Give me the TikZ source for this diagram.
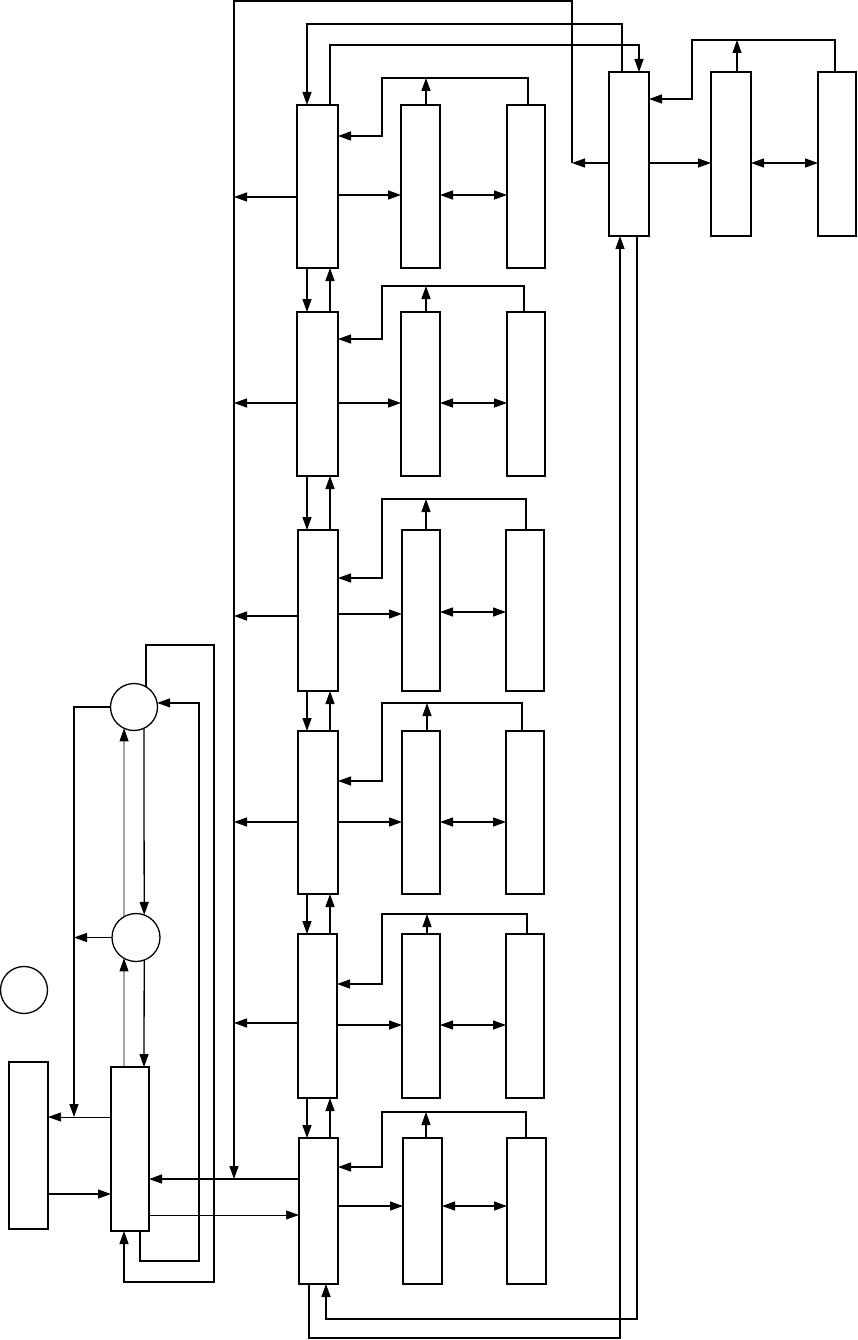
\documentclass[tikz,border=0pt]{standalone}
\usetikzlibrary{arrows.meta,fit}
\begin{document}
\begin{tikzpicture}[x=1pt,y=-1pt,
  line width=1.3pt,
  blk/.style={draw,rectangle,inner sep=0pt,outer sep=0pt,line width=1.3pt},
  circ/.style={draw,circle,inner sep=0pt,outer sep=0pt,line width=1.3pt},
  arr/.style={-{Triangle[length=13pt,width=9pt]}},
  darr/.style={{Triangle[length=13pt,width=9pt]}-{Triangle[length=13pt,width=9pt]}},
  thinl/.style={line width=0.7pt}]
\useasboundingbox (0,0) rectangle (857,1340);
% boxes
\node[blk,fit={(297,105) (338,268)}] (A1) {};
\node[blk,fit={(401,105) (440,268)}] (B1) {};
\node[blk,fit={(507,105) (545,268)}] (C1) {};
\node[blk,fit={(297,312) (338,476)}] (A2) {};
\node[blk,fit={(401,312) (440,476)}] (B2) {};
\node[blk,fit={(507,312) (545,476)}] (C2) {};
\node[blk,fit={(298,530) (338,691)}] (A3) {};
\node[blk,fit={(402,530) (440,691)}] (B3) {};
\node[blk,fit={(506,530) (544,691)}] (C3) {};
\node[blk,fit={(298,731) (338,894)}] (A4) {};
\node[blk,fit={(402,731) (440,894)}] (B4) {};
\node[blk,fit={(506,731) (544,894)}] (C4) {};
\node[blk,fit={(298,934) (337,1098)}] (A5) {};
\node[blk,fit={(402,934) (440,1098)}] (B5) {};
\node[blk,fit={(506,934) (544,1098)}] (C5) {};
\node[blk,fit={(299,1138) (338,1284)}] (A6) {};
\node[blk,fit={(403,1138) (442,1284)}] (B6) {};
\node[blk,fit={(507,1138) (546,1284)}] (C6) {};
\node[blk,fit={(609,72) (649,236)}] (D) {};
\node[blk,fit={(711,72) (751,236)}] (E) {};
\node[blk,fit={(818,72) (856,236)}] (F) {};
\node[blk,fit={(9,1062) (48,1229)}] (L) {};
\node[blk,fit={(111,1067) (149,1231)}] (M) {};
\node[circ,minimum size=47pt] (P) at (134,707) {};
\node[circ,minimum size=48pt] (Q) at (136,937.5) {};
\node[circ,minimum size=47pt] (S) at (24,990) {};
\coordinate (bus) at (234,0);
% rows
\foreach \r/\yab/\ybc/\ybus/\xc/\ytop/\yfb/\xb in {
  1/195/195/197/528/78/136/426,
  2/403/403/403/524/286/339/426,
  3/614/612/616/526/499/578/426,
  4/822/822/822/522/703/781/427,
  5/1025/1025/1023/527/914/984/427,
  6/1206/1206/0/526/1112/1167/426}{
  \draw[arr] (A\r.east|-0,\yab) -- (B\r.west|-0,\yab);
  \draw[darr] (B\r.east|-0,\ybc) -- (C\r.west|-0,\ybc);
  \draw[arr] (C\r.north-|\xc,0) -- (\xc,\ytop) -- (382,\ytop) -- (382,\yfb) -- (A\r.east|-0,\yfb);
  \draw[arr] (B\r.north-|\xb,0) -- (\xb,\ytop);
  \ifnum\ybus>0
    \draw[arr] (A\r.west|-0,\ybus) -- (bus|-0,\ybus);
  \fi
}
\foreach \a/\b in {1/2,2/3,3/4,4/5,5/6}{
  \draw[arr] (A\a.south-|307,0) -- (A\b.north-|307,0);
  \draw[arr] (A\b.north-|330,0) -- (A\a.south-|330,0);
}
% top group
\draw[arr] (D.east|-0,163) -- (E.west|-0,163);
\draw[darr] (E.east|-0,163) -- (F.west|-0,163);
\draw[arr] (F.north-|835,0) -- (835,40) -- (692,40) -- (692,99) -- (D.east|-0,99);
\draw[arr] (E.north-|737,0) -- (737,40);
% bus loop
\draw[arr] (D.west|-0,163) -- (572,163);
\draw[arr] (572,163) -- (572,1) -- (234,1) -- (bus|-0,1179);
% top loops
\draw[arr] (D.north-|622,0) -- (622,24) -| (A1.north-|307,0);
\draw[arr] (A1.north-|330,0) -- (330,45) -| (D.north-|639,0);
% bottom loops
\draw[arr] (A6.south-|309,0) -- (309,1338) -| (D.south-|620,0);
\draw[arr] (D.south-|637,0) -- (637,1319) -| (A6.south-|326,0);
% left part
\draw[arr] (A6.west|-0,1179) -- (M.east|-0,1179);
\draw[arr,thinl] (M.east|-0,1215) -- (A6.west|-0,1215);
\draw[arr] (L.east|-0,1194) -- (M.west|-0,1194);
\draw[arr,thinl] (M.west|-0,1117) -- (L.east|-0,1117);
\draw[arr] (P.west) -| (74,1117);
\draw[arr] (Q.west) -- (74,937.5);
\draw[arr] (P.-65) -- (Q.70.5);
\draw[arr,thinl] (Q.120) -- (P.-115);
\draw[arr] (Q.-70.5) -- (M.north-|144,0);
\draw[arr,thinl] (M.north-|124,0) -- (Q.-120);
\draw[arr] (M.south-|140,0) |- (199,1261) |- (P.10);
\draw[arr] (P.59) |- (214,645) -- (214,1282) -| (M.south-|124,0);
\end{tikzpicture}
\end{document}
